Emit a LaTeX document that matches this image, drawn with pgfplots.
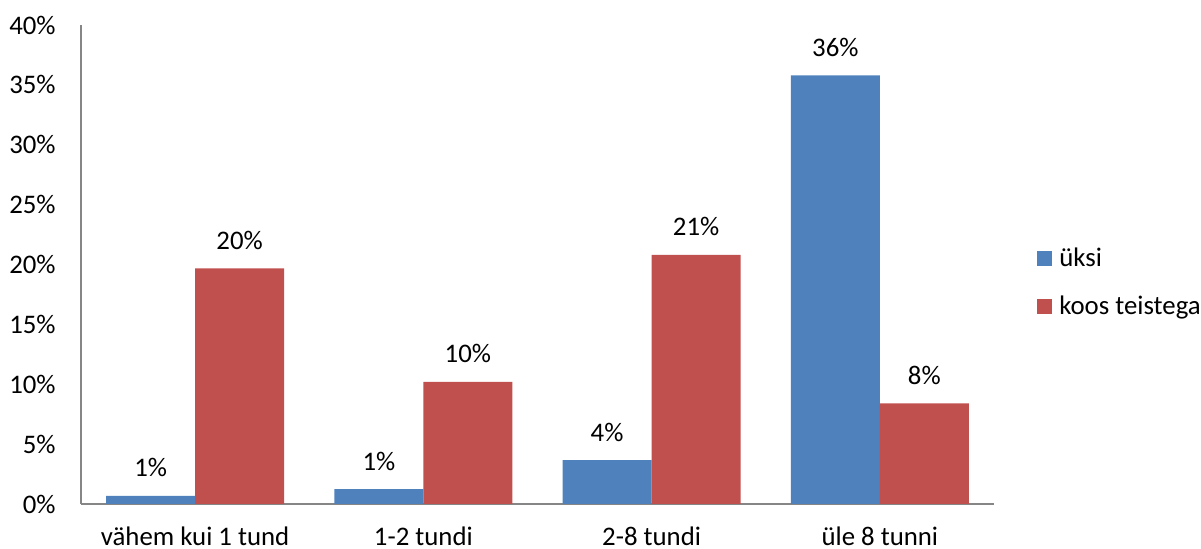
\documentclass[border=0pt]{standalone}
\usepackage{fontspec}
\setmainfont{Carlito}
\usepackage{pgfplots}
\pgfplotsset{compat=1.18}
\definecolor{cblue}{HTML}{4F81BD}
\definecolor{cred}{HTML}{C0504D}
\definecolor{axgray}{HTML}{868686}
\begin{document}
\begin{tikzpicture}[font=\fontsize{13.4}{15.5}\selectfont]
\useasboundingbox (-40.5pt,-22.5pt) rectangle (560pt,252pt);
\begin{axis}[
  at={(0pt,0pt)}, anchor=south west,
  scale only axis, width=456.5pt, height=239.5pt,
  xmin=-0.5, xmax=3.5, ymin=0, ymax=40,
  ybar=0pt, bar width=44.5pt,
  axis x line*=bottom, axis y line*=left,
  axis line style={axgray, line width=0.8pt, -},
  xtick={0,1,2,3},
  xticklabels={vähem kui 1 tund, 1-2 tundi, 2-8 tundi, üle 8 tunni},
  ytick={0,5,...,40},
  major tick length=0pt,
  /pgf/number format/assume math mode=true,
  yticklabel={\pgfmathprintnumber{\tick}\%},
  yticklabel style={inner sep=0pt, xshift=-12.5pt, text=black},
  xticklabel style={inner sep=0pt, anchor=north, yshift=-11.5pt, text=black},
  nodes near coords={\pgfmathprintnumber[fixed,precision=0]{\pgfplotspointmeta}\%},
  nodes near coords style={anchor=base, inner sep=0pt, yshift=9.5pt, text=black},
  legend style={draw=none, at={(1.047,0.535)}, anchor=north west,
    legend cell align=left, row sep=13pt, inner sep=0pt,
    nodes={inner sep=0pt, text=black}},
  clip=false,
]
\addplot[fill=cblue, draw=none, legend image code/.code={\fill[cblue] (0pt,-3.75pt) rectangle (7.5pt,3.75pt);}]
  coordinates {(0,0.67) (1,1.25) (2,3.67) (3,35.8)};
\addlegendentry{\hspace{3.5pt}üksi}
\addplot[fill=cred, draw=none, legend image code/.code={\fill[cred] (0pt,-3.75pt) rectangle (7.5pt,3.75pt);}]
  coordinates {(0,19.67) (1,10.2) (2,20.8) (3,8.4)};
\addlegendentry{\hspace{3.5pt}koos teistega}
\end{axis}
\end{tikzpicture}
\end{document}
